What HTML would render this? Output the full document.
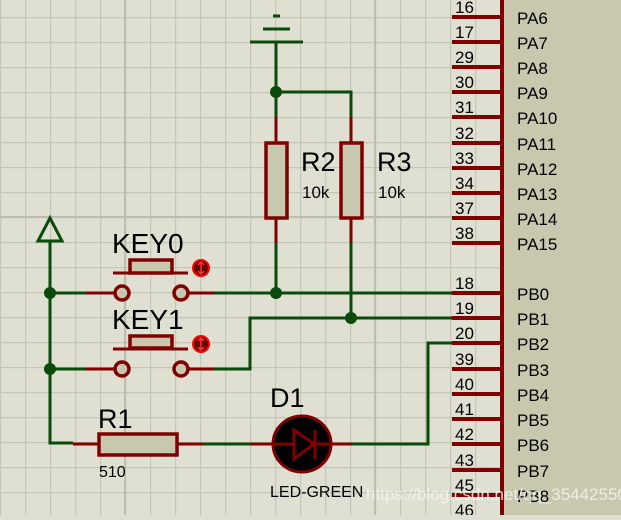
<!DOCTYPE html>
<html><head><style>html,body{margin:0;padding:0;background:#e0e0d2;overflow:hidden}</style></head>
<body>
<svg width="621" height="515" xmlns="http://www.w3.org/2000/svg" font-family="Liberation Sans, sans-serif">
<defs>
<pattern id="g" x="0" y="17" width="25" height="25" patternUnits="userSpaceOnUse">
<path d="M0.5 0V25M0 0.5H25" stroke="#c6c6b8" stroke-width="1.5" fill="none"/>
</pattern>
</defs>
<rect width="621" height="515" fill="#e0e0d2"/>
<rect width="621" height="515" fill="url(#g)"/>
<path d="M125 0V515M375 0V515M0 217H621" stroke="#bdbdae" stroke-width="2"/>
<!-- chip -->
<rect x="502" y="0" width="119" height="515" fill="#c8c8ae"/>
<rect x="500" y="0" width="4" height="515" fill="#800000"/>
<g stroke="#800000" stroke-width="4">
<path d="M452 17H502M452 42H502M452 67H502M452 92H502M452 117H502M452 143H502M452 168H502M452 193H502M452 218H502M452 243H502"/>
<path d="M452 293H502M452 318H502M452 343H502M452 369H502M452 394H502M452 419H502M452 444H502M452 470H502M452 495H502"/>
</g>
<g font-size="17" fill="#000">
<text x="455" y="13">16</text><text x="455" y="38">17</text><text x="455" y="63">29</text><text x="455" y="88">30</text><text x="455" y="113">31</text><text x="455" y="139">32</text><text x="455" y="164">33</text><text x="455" y="189">34</text><text x="455" y="214">37</text><text x="455" y="239">38</text>
<text x="455" y="289">18</text><text x="455" y="314">19</text><text x="455" y="339">20</text><text x="455" y="365">39</text><text x="455" y="390">40</text><text x="455" y="415">41</text><text x="455" y="440">42</text><text x="455" y="466">43</text><text x="455" y="491">45</text><text x="455" y="516">46</text>
<text x="517" y="24">PA6</text><text x="517" y="49">PA7</text><text x="517" y="74">PA8</text><text x="517" y="99">PA9</text><text x="517" y="124">PA10</text><text x="517" y="150">PA11</text><text x="517" y="175">PA12</text><text x="517" y="200">PA13</text><text x="517" y="225">PA14</text><text x="517" y="250">PA15</text>
<text x="517" y="300">PB0</text><text x="517" y="325">PB1</text><text x="517" y="350">PB2</text><text x="517" y="376">PB3</text><text x="517" y="401">PB4</text><text x="517" y="426">PB5</text><text x="517" y="451">PB6</text><text x="517" y="477">PB7</text><text x="517" y="502">PB8</text>
</g>
<!-- green wires -->
<g stroke="#0a4a0a" stroke-width="3" fill="none">
<path d="M250 42H303M263 29H290M273 16H280" stroke-width="3"/>
<path d="M276 42V117M276 92H351V117"/>
<path d="M276 243V293M351 243V318"/>
<path d="M50 240V443H73M50 293H86M50 369H86"/>
<path d="M214 293H452M214 369H250V318H452"/>
<path d="M452 343H428V444H352M203 444H251"/>
<path d="M50 218L38 241H62Z" stroke-width="3"/>
</g>
<g fill="#0a4a0a">
<circle cx="276" cy="92" r="6"/><circle cx="276" cy="293" r="6"/><circle cx="351" cy="318" r="6"/><circle cx="50" cy="293" r="6"/><circle cx="50" cy="369" r="6"/>
</g>
<!-- red parts -->
<g stroke="#800000" stroke-width="3" fill="none">
<path d="M276 117V142M276 218V243M351 117V142M351 218V243"/>
<path d="M86 293H114M188 293H214M86 369H114M188 369H214"/>
<path d="M73 444H98M177 444H203M251 444H273M331 444H352"/>
<path d="M113 273H188M113 349H188"/>
</g>
<g stroke="#800000" stroke-width="3.5" fill="#c8c8ae">
<rect x="266" y="143" width="21" height="75"/>
<rect x="341" y="143" width="21" height="75"/>
<rect x="99" y="434" width="78" height="21"/>
<rect x="130" y="260" width="42" height="13"/>
<rect x="130" y="336" width="42" height="12"/>
<circle cx="122" cy="293" r="7"/><circle cx="181" cy="293" r="7"/>
<circle cx="122" cy="369" r="7"/><circle cx="181" cy="369" r="7"/>
</g>
<g>
<circle cx="201" cy="268" r="8" fill="#600" stroke="#f00" stroke-width="2"/>
<circle cx="201" cy="344" r="8" fill="#600" stroke="#f00" stroke-width="2"/>
<path d="M201 263V273M198 265L201 262L204 265M198 271L201 274L204 271" stroke="#f33" stroke-width="1.5" fill="none"/>
<path d="M201 339V349M198 341L201 338L204 341M198 347L201 350L204 347" stroke="#f33" stroke-width="1.5" fill="none"/>
</g>
<!-- LED -->
<ellipse cx="302" cy="444" rx="29" ry="28" fill="#000" stroke="#800000" stroke-width="3"/>
<path d="M294 430V459L314 444Z" fill="none" stroke="#800000" stroke-width="3"/>
<path d="M315 430V459M273 444H294M314 444H331" stroke="#800000" stroke-width="3"/>
<!-- labels -->
<g fill="#000">
<text x="112" y="253" font-size="28">KEY0</text>
<text x="112" y="329" font-size="28">KEY1</text>
<text x="301" y="171" font-size="27">R2</text>
<text x="377" y="171" font-size="27">R3</text>
<text x="302" y="198" font-size="17">10k</text>
<text x="378" y="198" font-size="17">10k</text>
<text x="98" y="428" font-size="27">R1</text>
<text x="99" y="477" font-size="16">510</text>
<text x="270" y="407" font-size="27">D1</text>
<text x="270" y="497" font-size="16">LED-GREEN</text>
</g>
<text x="366" y="500" font-size="17" fill="#f4f4f0" opacity="0.85">https://blog.csdn.net/qq_35442550</text>
</svg>
</body></html>
